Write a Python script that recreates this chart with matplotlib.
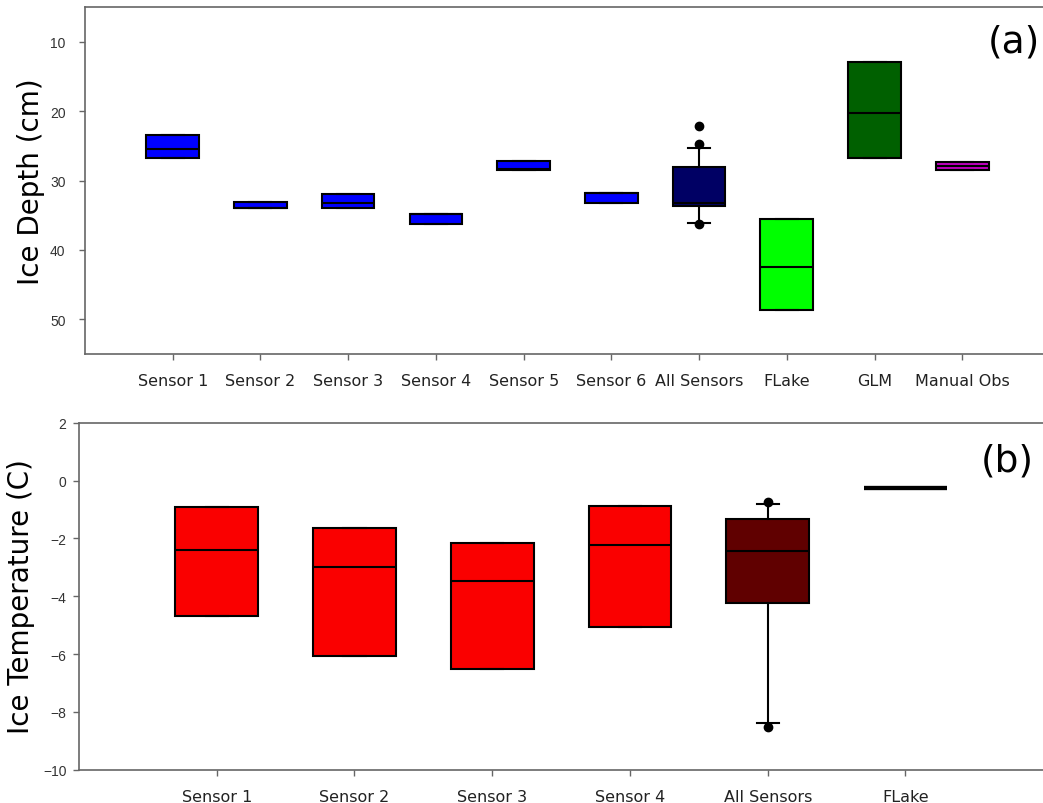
import matplotlib
matplotlib.use("Agg")
import matplotlib.pyplot as plt

# ice depth summaries (cm), one box per source
depth_labels = ["Sensor 1", "Sensor 2", "Sensor 3", "Sensor 4", "Sensor 5",
                "Sensor 6", "All Sensors", "FLake", "GLM", "Manual Obs"]
depth_q1 = [23.5, 33.1, 31.9, 34.8, 27.15, 31.85, 28.0, 35.6, 12.9, 27.3]
depth_med = [25.4, 33.9, 33.3, 34.8, 28.3, 31.85, 33.3, 42.4, 20.3, 27.9]
depth_q3 = [26.8, 33.9, 34.0, 36.3, 28.45, 33.3, 33.7, 48.6, 26.8, 28.45]
depth_whislo = [23.5, 33.1, 31.9, 34.8, 27.15, 31.85, 25.3, 35.6, 12.9, 27.3]
depth_whishi = [26.8, 33.9, 34.0, 36.3, 28.45, 33.3, 36.1, 48.6, 26.8, 28.45]
depth_fliers = [[], [], [], [], [], [], [22.2, 24.7, 36.2], [], [], []]
depth_colors = ["#0000ff"] * 6 + ["#000064", "#00ff00", "#006000", "#c000c0"]

# ice temperature summaries (C)
temp_labels = ["Sensor 1", "Sensor 2", "Sensor 3", "Sensor 4", "All Sensors", "FLake"]
temp_q1 = [-4.68, -6.06, -6.51, -5.05, -4.23, -0.26]
temp_med = [-2.40, -3.00, -3.48, -2.23, -2.42, -0.26]
temp_q3 = [-0.92, -1.64, -2.16, -0.89, -1.33, -0.26]
temp_whislo = [-4.68, -6.06, -6.51, -5.05, -8.37, -0.26]
temp_whishi = [-0.92, -1.64, -2.16, -0.89, -0.82, -0.26]
temp_fliers = [[], [], [], [], [-0.74, -8.54], []]
temp_colors = ["#fa0000"] * 4 + ["#600000", "#fa0000"]


def make_stats(labels, q1, med, q3, lo, hi, fliers):
    stats = []
    for i in range(len(labels)):
        stats.append({"label": labels[i], "q1": q1[i], "med": med[i], "q3": q3[i],
                      "whislo": lo[i], "whishi": hi[i], "fliers": fliers[i]})
    return stats


def draw_boxes(ax, stats, colors, capwidth):
    res = ax.bxp(stats, positions=range(1, len(stats) + 1), widths=0.6,
                 patch_artist=True, capwidths=capwidth,
                 boxprops=dict(edgecolor="black", linewidth=1.5),
                 medianprops=dict(color="black", linewidth=1.5),
                 whiskerprops=dict(color="black", linewidth=1.5),
                 capprops=dict(color="black", linewidth=1.5),
                 flierprops=dict(marker="o", markerfacecolor="black",
                                 markeredgecolor="black", markersize=6))
    for box, c in zip(res["boxes"], colors):
        box.set_facecolor(c)
    return res


def style_axes(ax):
    for sp in ax.spines.values():
        sp.set_color("#666666")
        sp.set_linewidth(1.2)
    ax.tick_params(axis="x", direction="out", length=4, width=1, color="#666666",
                   pad=10, labelsize=11.5, labelcolor="#222222")
    ax.tick_params(axis="y", direction="out", length=4, width=1, color="#666666",
                   labelcolor="#333333")
    for t in ax.get_yticklabels():
        t.set_fontfamily("Liberation Sans")
        t.set_fontsize(10)


fig = plt.figure(figsize=(10.43, 8.04), dpi=100)
W, H = 1043, 804

# (a) ice depth
ax1 = fig.add_axes([85 / W, 1 - 355 / H, 965 / W, 347 / H])
draw_boxes(ax1, make_stats(depth_labels, depth_q1, depth_med, depth_q3,
                           depth_whislo, depth_whishi, depth_fliers),
           depth_colors, 0.25)
ax1.set_xlim(0, 11)
ax1.set_ylim(55, 5)
ax1.set_yticks([10, 20, 30, 40, 50])
style_axes(ax1)
ax1.tick_params(axis="y", pad=10)
ax1.text(0.963, 0.9, "(a)", transform=ax1.transAxes, fontsize=27,
         ha="center", va="center")
fig.text(31 / W, 1 - 182 / H, "Ice Depth (cm)", rotation=90, fontsize=20,
         ha="center", va="center")

# (b) ice temperature
ax2 = fig.add_axes([79 / W, 1 - 770.7 / H, 967 / W, 347 / H])
res2 = draw_boxes(ax2, make_stats(temp_labels, temp_q1, temp_med, temp_q3,
                                  temp_whislo, temp_whishi, temp_fliers),
                  temp_colors, 0.16)
# FLake has a single value, so its box collapses to a bold line
res2["boxes"][-1].set_linewidth(3)
res2["medians"][-1].set_linewidth(3)
ax2.set_xlim(0, 7.02)
ax2.set_ylim(-10, 2)
ax2.set_yticks([-10, -8, -6, -4, -2, 0, 2])
style_axes(ax2)
ax2.tick_params(axis="y", pad=5)
ax2.text(0.96, 0.89, "(b)", transform=ax2.transAxes, fontsize=27,
         ha="center", va="center")
fig.text(21 / W, 1 - 597 / H, "Ice Temperature (C)", rotation=90, fontsize=20,
         ha="center", va="center")

fig.savefig("out.png", dpi=100)
